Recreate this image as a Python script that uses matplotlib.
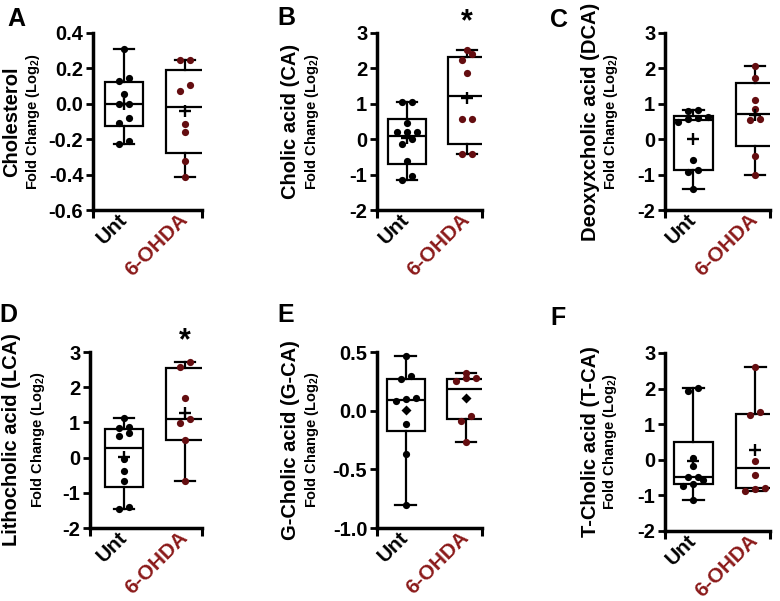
import numpy as np
import matplotlib
matplotlib.use("Agg")
import matplotlib.pyplot as plt

plt.rcParams['font.family'] = ['Liberation Sans', 'DejaVu Sans']
plt.rcParams['font.weight'] = 'bold'
plt.rcParams['axes.unicode_minus'] = False
plt.rcParams['mathtext.fontset'] = 'custom'
plt.rcParams['mathtext.rm'] = 'Liberation Sans:bold'
plt.rcParams['mathtext.it'] = 'Liberation Sans:bold'
plt.rcParams['mathtext.bf'] = 'Liberation Sans:bold'

########
# DATA #
########

groups = ["Unt", "6-OHDA"]

# A - cholesterol
chol_unt = [0.31, 0.145, 0.126, 0.055, 0.0, 0.0, -0.08, -0.11, -0.21, -0.225]
chol_ohda = [0.249, 0.249, 0.108, 0.075, -0.113, -0.162, -0.321, -0.411]
chol_box_unt = [-0.128, 0.0, 0.121]      # q1, median, q3
chol_box_ohda = [-0.279, -0.019, 0.192]

# B - cholic acid
ca_unt = [1.05, 1.05, 0.46, 0.2, 0.2, 0.19, 0.0, -0.13, -0.61, -1.04, -1.14]
ca_ohda = [2.53, 2.40, 2.24, 1.88, 0.58, 0.58, -0.42, -0.42]
ca_box_unt = [-0.69, 0.09, 0.58]
ca_box_ohda = [-0.14, 1.23, 2.33]

# C - deoxycholic acid
dca_unt = [0.82, 0.79, 0.63, 0.6, 0.58, 0.49, -0.59, -0.88, -0.93, -1.4]
dca_ohda = [2.06, 1.73, 1.1, 0.84, 0.58, 0.55, -0.47, -1.02]
dca_box_unt = [-0.88, 0.55, 0.66]
dca_box_ohda = [-0.19, 0.71, 1.6]

# D - lithocholic acid
lca_unt = [1.13, 0.88, 0.83, 0.69, 0.62, -0.05, -0.37, -0.67, -1.41, -1.47]
lca_ohda = [2.72, 2.57, 1.69, 1.09, 0.99, 0.5, -0.66]
lca_box_unt = [-0.84, 0.26, 0.8]
lca_box_ohda = [0.51, 1.09, 2.55]

# E - G-cholic acid
gca_unt = [0.466, 0.298, 0.27, 0.111, 0.1, 0.083, -0.113, -0.369, -0.804]
gca_ohda = [0.319, 0.281, 0.276, 0.256, -0.045, -0.085, -0.264]
gca_box_unt = [-0.17, 0.091, 0.268]
gca_box_ohda = [-0.071, 0.182, 0.268]

# F - T-cholic acid
tca_unt = [2.03, 1.92, 0.05, -0.17, -0.48, -0.48, -0.58, -0.67, -0.73, -1.14]
tca_ohda = [2.62, 1.33, 1.26, -0.03, -0.44, -0.78, -0.81, -0.89]
tca_box_unt = [-0.67, -0.47, 0.49]
tca_box_ohda = [-0.78, -0.23, 1.3]

##########
# LAYOUT #
##########

W, H = 780, 601
RED_DOT = '#640d10'
RED_TXT = '#8b1a1a'

panels = [
    dict(letter="A", unt=chol_unt, ohda=chol_ohda, bu=chol_box_unt, bo=chol_box_ohda,
         name="Cholesterol", ylim=(-0.6, 0.4), step=0.2, fmt="%.1f", mean="+",
         box=(93, 202, 33, 210), xlim=(-0.508, 1.279), lab=(12, 33), let=(16, 19), star=False),
    dict(letter="B", unt=ca_unt, ohda=ca_ohda, bu=ca_box_unt, bo=ca_box_ohda,
         name="Cholic acid (CA)", ylim=(-2, 3), step=1, fmt="%d", mean="+",
         box=(377, 482, 33, 210), xlim=(-0.495, 1.255), lab=(290, 312), let=(286, 18), star=True),
    dict(letter="C", unt=dca_unt, ohda=dca_ohda, bu=dca_box_unt, bo=dca_box_ohda,
         name="Deoxyxcholic acid (DCA)", ylim=(-2, 3), step=1, fmt="%d", mean="+",
         box=(665, 770, 33, 210), xlim=(-0.459, 1.243), lab=(590, 611), let=(559, 20), star=False),
    dict(letter="D", unt=lca_unt, ohda=lca_ohda, bu=lca_box_unt, bo=lca_box_ohda,
         name="Lithocholic acid (LCA)", ylim=(-2, 3), step=1, fmt="%d", mean="+",
         box=(90, 202, 352, 528), xlim=(-0.557, 1.279), lab=(12, 38), let=(8, 315), star=True),
    dict(letter="E", unt=gca_unt, ohda=gca_ohda, bu=gca_box_unt, bo=gca_box_ohda,
         name="G-Cholic acid (G-CA)", ylim=(-1.0, 0.5), step=0.5, fmt="%.1f", mean="D",
         box=(377, 482, 352, 528), xlim=(-0.476, 1.265), lab=(290, 312), let=(286, 315), star=False),
    dict(letter="F", unt=tca_unt, ohda=tca_ohda, bu=tca_box_unt, bo=tca_box_ohda,
         name="T-Cholic acid (T-CA)", ylim=(-2, 3), step=1, fmt="%d", mean="+",
         box=(665, 770, 353, 531), xlim=(-0.457, 1.24), lab=(590, 610), let=(558, 318), star=False),
]


def swarm(vals, ypx, xpx, gap=6.0, step=10.0):
    # spread points that sit at almost the same height, side by side
    vals = np.asarray(vals, dtype=float)
    order = np.argsort(vals)
    offs = np.zeros(len(vals))
    i = 0
    while i < len(order):
        j = i
        while j + 1 < len(order) and (vals[order[j + 1]] - vals[order[i]]) * ypx < gap:
            j += 1
        n = j - i + 1
        for k in range(n):
            offs[order[i + k]] = (k - (n - 1) / 2) * step / xpx
        i = j + 1
    return offs


fig = plt.figure(figsize=(W / 100, H / 100), dpi=100)

for p in panels:
    x0, x1, y0, y1 = p["box"]
    ax = fig.add_axes([x0 / W, 1 - y1 / H, (x1 - x0) / W, (y1 - y0) / H])
    ax.set_xlim(*p["xlim"])
    ax.set_ylim(*p["ylim"])
    ypx = (y1 - y0) / (p["ylim"][1] - p["ylim"][0])
    xpx = (x1 - x0) / (p["xlim"][1] - p["xlim"][0])

    for pos, vals, q, col in [(0, p["unt"], p["bu"], 'black'), (1, p["ohda"], p["bo"], RED_DOT)]:
        stats = [dict(q1=q[0], med=q[1], q3=q[2], whislo=min(vals), whishi=max(vals), fliers=[])]
        ax.bxp(stats, positions=[pos], widths=0.63, capwidths=0.34, showfliers=False,
               patch_artist=True,
               boxprops=dict(facecolor='white', edgecolor='black', linewidth=1.6),
               medianprops=dict(color='black', linewidth=1.6),
               whiskerprops=dict(color='black', linewidth=1.6),
               capprops=dict(color='black', linewidth=1.6))
        xs = pos + swarm(vals, ypx, xpx)
        ax.plot(xs, vals, 'o', color=col, ms=5.2, mec='none', zorder=4, clip_on=False)
        if p["mean"] == "+":
            ax.plot([pos], [np.mean(vals)], '+', color='black', ms=8, mew=1.7, zorder=5)
        else:
            ax.plot([pos], [np.mean(vals)], 'D', color='black', ms=4.8, mec='none', zorder=5)

    ticks = np.arange(p["ylim"][0], p["ylim"][1] + 1e-6, p["step"])
    ax.set_yticks(ticks)
    ax.set_yticklabels([p["fmt"] % (round(t, 2) + 0.0) for t in ticks])
    ax.set_xticks([0, 1])
    ax.set_xticklabels(groups)
    ax.set_xticks(list(p["xlim"]), minor=True)
    for lbl in ax.get_xticklabels():
        lbl.set_rotation(45)
        lbl.set_ha('right')
        lbl.set_va('center')
        lbl.set_rotation_mode('anchor')
    ax.get_xticklabels()[1].set_color(RED_TXT)

    ax.tick_params(axis='y', length=5, width=2, labelsize=14.5, pad=2)
    ax.tick_params(axis='x', which='major', length=0, labelsize=15, pad=5)
    ax.tick_params(axis='x', which='minor', length=6, width=2.2)
    for s in ['top', 'right']:
        ax.spines[s].set_visible(False)
    for s in ['left', 'bottom']:
        ax.spines[s].set_linewidth(2.5)
    ax.patch.set_alpha(0)

    yc = 1 - (y0 + y1) / 2 / H
    fig.text(p["lab"][0] / W, yc, p["name"], rotation=90, ha='center', va='center',
             fontsize=14.5, fontweight='bold')
    fig.text(p["lab"][1] / W, yc, r"Fold Change (Log$_2$)", rotation=90, ha='center',
             va='center', fontsize=10.5, fontweight='bold')
    fig.text(p["let"][0] / W, 1 - p["let"][1] / H, p["letter"], ha='center', va='center',
             fontsize=18, fontweight='bold')
    if p["star"]:
        ax.text(1, p["ylim"][1] + 0.08, "*", ha='center', va='baseline', fontsize=22,
                fontweight='bold', clip_on=False)

fig.savefig("out.png", dpi=100)
